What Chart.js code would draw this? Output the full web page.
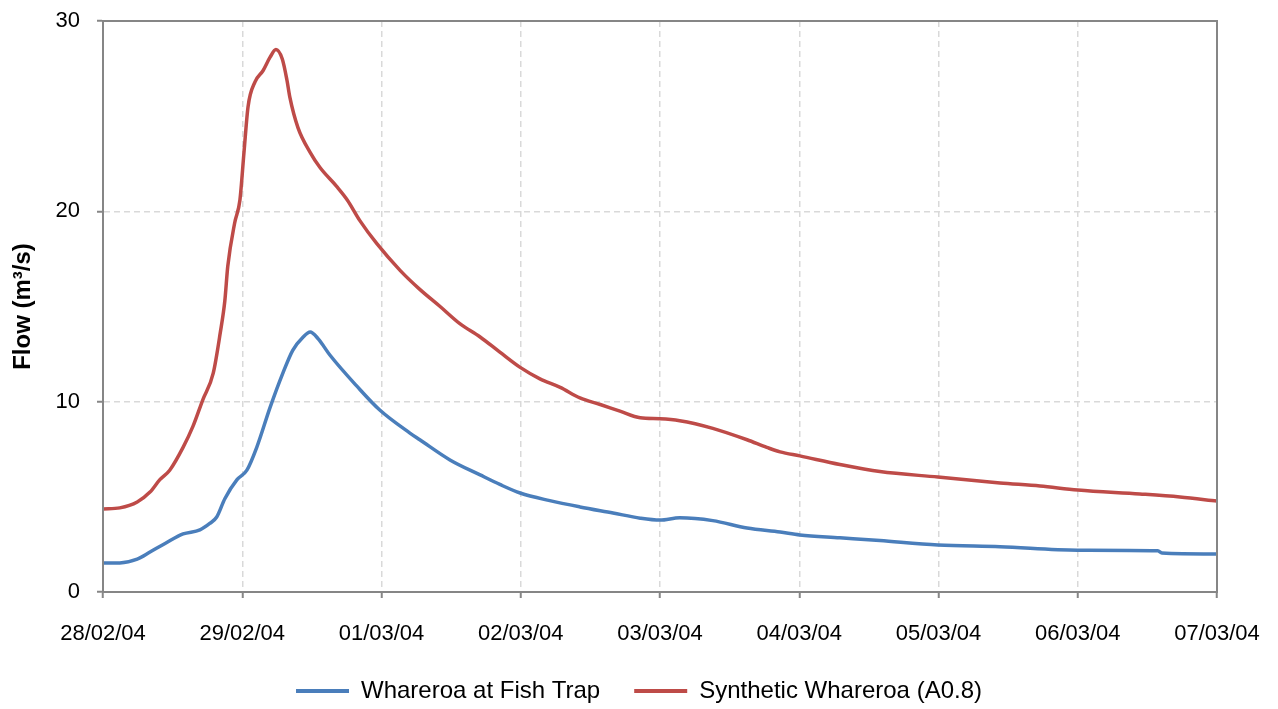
<!DOCTYPE html>
<html>
<head>
<meta charset="utf-8">
<script src="https://cdn.jsdelivr.net/npm/chart.js@4.4.1/dist/chart.umd.min.js"></script>
<style>
  html, body { margin: 0; padding: 0; background: #ffffff; }
  #wrap { width: 1278px; height: 709px; position: relative; }
</style>
</head>
<body>
<div id="wrap"><canvas id="c" width="1278" height="709"></canvas></div>
<script>
// Category tick labels (one per day, x in hours since 28/02/04 00:00)
const dateLabels = ["28/02/04", "29/02/04", "01/03/04", "02/03/04", "03/03/04", "04/03/04", "05/03/04", "06/03/04", "07/03/04"];

// Whareroa at Fish Trap (observed)
const fishHours = [0, 2.9, 5.9, 8.1, 10.7, 13.8, 16.7, 18.4, 19.6, 21.0, 23.1, 24.8, 26.5, 28.8, 31.0, 32.7, 34.5, 35.7, 37.1, 39.1, 43.8, 47.7, 52.9, 54.6, 59.8, 65.0, 68.4, 71.9, 77.0, 82.2, 87.9, 92.6, 96.0, 99.4, 105.1, 111.0, 116.7, 120.1, 127.0, 133.9, 143.9, 154.6, 168.0, 181.8, 182.5, 192];
const fishFlow  = [1.52, 1.53, 1.73, 2.1, 2.55, 3.05, 3.26, 3.6, 3.94, 4.9, 5.9, 6.4, 7.6, 9.7, 11.5, 12.7, 13.4, 13.66, 13.3, 12.45, 10.8, 9.56, 8.35, 8.0, 6.94, 6.15, 5.65, 5.2, 4.8, 4.47, 4.15, 3.88, 3.78, 3.9, 3.75, 3.36, 3.15, 3.0, 2.85, 2.7, 2.47, 2.38, 2.2, 2.17, 2.05, 2.0];

// Synthetic Whareroa (A0.8)
const synthHours = [0, 2.9, 5.9, 8.1, 9.8, 11.5, 13.8, 15.5, 17.2, 19.0, 20.2, 21.0, 21.5, 22.7, 23.6, 24.3, 25.0, 26.2, 27.6, 28.8, 29.8, 30.9, 31.7, 32.2, 33.6, 35.7, 37.4, 40.3, 42.1, 44.3, 47.2, 51.2, 54.6, 58.1, 61.5, 65.0, 68.4, 71.9, 75.3, 78.8, 82.2, 85.7, 89.1, 92.6, 96.0, 99.4, 105.1, 111.0, 114.4, 116.7, 120.1, 127.0, 133.9, 143.9, 154.6, 161.5, 168.0, 178.7, 185.6, 192];
const synthFlow  = [4.36, 4.42, 4.73, 5.25, 5.9, 6.4, 7.6, 8.7, 10.1, 11.5, 13.6, 15.3, 17.1, 19.4, 20.6, 23.1, 25.5, 26.8, 27.4, 28.1, 28.5, 28.0, 26.9, 26.0, 24.4, 23.1, 22.3, 21.3, 20.6, 19.5, 18.3, 16.9, 15.9, 15.0, 14.1, 13.4, 12.6, 11.8, 11.2, 10.75, 10.2, 9.85, 9.5, 9.15, 9.1, 9.0, 8.6, 8.0, 7.6, 7.36, 7.15, 6.7, 6.33, 6.04, 5.73, 5.57, 5.36, 5.15, 4.99, 4.78];

const seriesNames = ["Whareroa at Fish Trap", "Synthetic Whareroa (A0.8)"];

const toPoints = (xs, ys) => xs.map((x, i) => ({ x: x, y: ys[i] }));

const plotBorder = {
  id: 'plotBorder',
  afterDatasetsDraw(chart) {
    const a = chart.chartArea, ctx = chart.ctx;
    ctx.save();
    ctx.strokeStyle = '#868686';
    ctx.lineWidth = 2;
    ctx.strokeRect(a.left, a.top, a.right - a.left, a.bottom - a.top);
    ctx.restore();
  }
};

const FONT = "'Liberation Sans', Arial, sans-serif";

new Chart(document.getElementById('c'), {
  type: 'line',
  data: {
    datasets: [
      {
        label: seriesNames[0],
        data: toPoints(fishHours, fishFlow),
        borderColor: '#4a7ebb',
        backgroundColor: '#4a7ebb',
        borderWidth: 3.5,
        pointRadius: 0,
        cubicInterpolationMode: 'monotone',
        fill: false
      },
      {
        label: seriesNames[1],
        data: toPoints(synthHours, synthFlow),
        borderColor: '#be4b48',
        backgroundColor: '#be4b48',
        borderWidth: 3.5,
        pointRadius: 0,
        cubicInterpolationMode: 'monotone',
        fill: false
      }
    ]
  },
  options: {
    responsive: false,
    animation: false,
    layout: { padding: { left: 0, right: 0, top: 21, bottom: -4 } },
    plugins: {
      tooltip: { enabled: false },
      legend: {
        position: 'bottom',
        labels: {
          font: { family: FONT, size: 24 },
          color: '#000000',
          boxWidth: 53,
          boxHeight: 4,
          padding: 34,
          generateLabels(chart) {
            const items = Chart.defaults.plugins.legend.labels.generateLabels(chart);
            items.forEach(it => { it.lineWidth = 0; });
            return items;
          }
        }
      }
    },
    scales: {
      x: {
        type: 'linear',
        min: 0,
        max: 192,
        afterFit(scale) { scale.height = 53; scale.paddingLeft = 0; scale.paddingRight = 0; },
        ticks: {
          stepSize: 24,
          autoSkip: false,
          maxRotation: 0,
          padding: 23,
          color: '#000000',
          font: { family: FONT, size: 22 },
          callback: (v) => dateLabels[Math.round(v / 24)] || ''
        },
        grid: {
          color: (ctx) => (ctx.tick && (ctx.tick.value === 0 || ctx.tick.value === 192)) ? 'rgba(0,0,0,0)' : '#d9d9d9',
          lineWidth: 1.5,
          tickLength: 6,
          tickColor: '#868686',
          tickWidth: 2
        },
        border: { display: true, color: '#868686', width: 2, dash: [6, 4] }
      },
      y: {
        min: 0,
        max: 30,
        afterFit(scale) { scale.width = 103; scale.paddingTop = 0; scale.paddingBottom = 0; },
        ticks: {
          stepSize: 10,
          padding: 17,
          color: '#000000',
          font: { family: FONT, size: 22 }
        },
        grid: {
          color: (ctx) => (ctx.tick && (ctx.tick.value === 0 || ctx.tick.value === 30)) ? 'rgba(0,0,0,0)' : '#d9d9d9',
          lineWidth: 1.5,
          tickLength: 6,
          tickColor: '#868686',
          tickWidth: 2
        },
        border: { display: true, color: '#868686', width: 2, dash: [6, 4] },
        title: {
          display: true,
          text: 'Flow (m³/s)',
          color: '#000000',
          font: { family: FONT, size: 24, weight: 'bold' },
          padding: { top: 9, bottom: 0 }
        }
      },
      yRight: {
        position: 'right',
        min: 0,
        max: 30,
        display: true,
        afterFit(scale) { scale.width = 61; scale.paddingTop = 0; scale.paddingBottom = 0; },
        ticks: { display: false },
        grid: { display: false, drawTicks: false },
        border: { display: false }
      }
    }
  },
  plugins: [plotBorder]
});
</script>
</body>
</html>
